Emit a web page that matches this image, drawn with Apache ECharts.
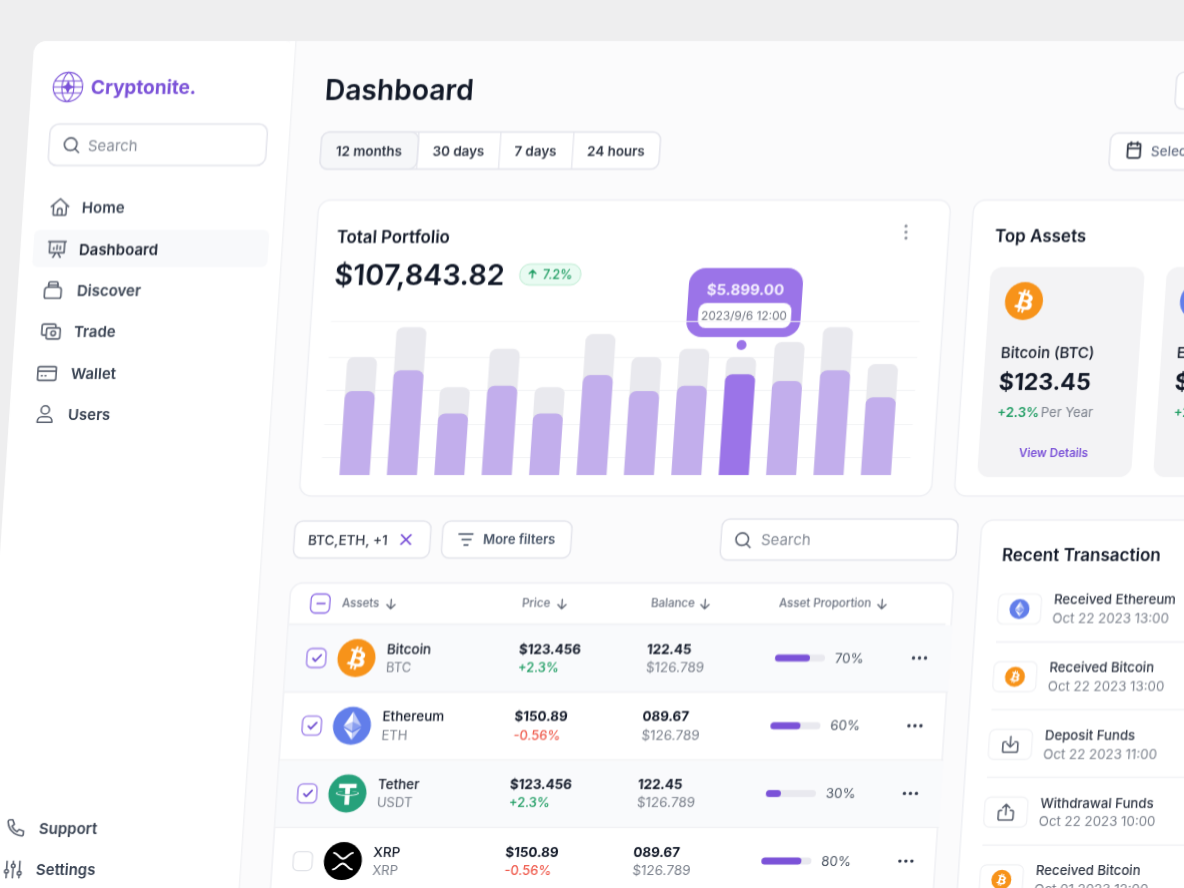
<!DOCTYPE html>
<html>
<head>
<meta charset="utf-8">
<script src="https://cdn.jsdelivr.net/npm/echarts@6/dist/echarts.min.js"></script>
<style>
html,body{margin:0;padding:0;width:1184px;height:888px;overflow:hidden;background:#eeeeef}
#chart{position:absolute;left:0;top:0;width:1270px;height:888px;transform-origin:0 0;transform:matrix(1,0,-0.067,1,0,0)}
</style>
</head>
<body>
<div id="chart"></div>
<script>
const months = ['Jan','Feb','Mar','Apr','May','Jun','Jul','Aug','Sep','Oct','Nov','Dec'];
const portfolioTotals = [76.6,96,57,82,57,91.5,76.6,82,76.6,86.4,96,72];
const portfolioValues = [54.5,68,40,58,40,65,54.5,58,65.5,61,68,50.5];
const activeMonth = 8;
const gridLevels = [100,76.6,55,33,11.7];
const assetNames = ['Bitcoin','Ethereum','Tether','XRP'];
const assetSymbols = ['BTC','ETH','USDT','XRP'];
const assetPrices = ['$123.456','$150.89','$123.456','$150.89'];
const assetChanges = ['+2.3%','-0.56%','+2.3%','-0.56%'];
const assetBalances = ['122.45','089.67','122.45','089.67'];
const assetBalanceValues = ['$126.789','$126.789','$126.789','$126.789'];
const assetProportions = [70,60,30,80];
const assetChecked = [true,true,true,false];
const navItems = ['Home','Dashboard','Discover','Trade','Wallet','Users'];
const ranges = ['12 months','30 days','7 days','24 hours'];
const txTitles = ['Received Ethereum','Received Bitcoin','Deposit Funds','Withdrawal Funds','Received Bitcoin'];
const txDates = ['Oct 22 2023 13:00','Oct 22 2023 13:00','Oct 22 2023 11:00','Oct 22 2023 10:00','Oct 01 2023 12:00'];

const S = 0.067, FF = 'Inter';
const L = (x, y) => x + S * y;
const els = [];
const T = (x, y, text, font, fill, align) => { const yy = y + 1; els.push({type:'text', x:L(x,y), y:yy, style:{text:text, font:font+' '+FF, fill:fill, textAlign:align||'left', textVerticalAlign:'middle'}}); };
const R = (x, y, w, h, r, fill, stroke, lw) => els.push({type:'rect', x:L(x,y), y:y, shape:{x:0,y:0,width:w,height:h,r:r||0}, style:{fill:fill||'none', stroke:stroke||'none', lineWidth:lw||0}});
const C = (x, y, r, fill, stroke, lw) => els.push({type:'circle', x:L(x,y), y:y, shape:{cx:0,cy:0,r:r}, style:{fill:fill||'none', stroke:stroke||'none', lineWidth:lw||0}});
const H = (x, y, w, stroke, lw) => els.push({type:'line', x:L(x,y), y:y, shape:{x1:0,y1:0,x2:w,y2:0}, style:{stroke:stroke, lineWidth:lw||1}});
// icons: path data registered as a graphic shape, scaled from its box and centred at x,y
const shapeNames = new Map();
const shapeOf = d => {
  if (!shapeNames.has(d)) {
    const name = 'icon' + shapeNames.size;
    echarts.graphic.registerShape(name, echarts.graphic.extendPath(d, {}));
    shapeNames.set(d, name);
  }
  return shapeNames.get(d);
};
const P = (x, y, size, box, d, style) => {
  const k = size / box, st = Object.assign({fill:'none', stroke:'none'}, style || {});
  if (st.lineWidth) st.lineWidth = st.lineWidth / k;
  els.push({type:shapeOf(d), x:L(x,y)-size/2, y:y-size/2, scaleX:k, scaleY:k, shape:{}, style:st});
};
const I = (x, y, size, d, color, lw) => P(x, y, size, 24, d, {stroke:color, lineWidth:lw||1.6, lineCap:'round', lineJoin:'round'});

const ICON = {
  home:'M2.5 11.5 12 3l9.5 8.5M5 9.5V19a2 2 0 0 0 2 2h10a2 2 0 0 0 2-2V9.5M9.5 21v-5a2.5 2.5 0 0 1 5 0v5',
  present:'M2.5 4h19M4 4v12h16V4M8 21l3-5M16 21l-3-5M8.5 12.5v-2M12 12.5V8M15.5 12.5V9',
  stack:'M7 9V5a2 2 0 0 1 2-2h6a2 2 0 0 1 2 2v4M6.5 6.5h11M3 12a3 3 0 0 1 3-3h12a3 3 0 0 1 3 3v7a2 2 0 0 1-2 2H5a2 2 0 0 1-2-2z',
  cash:'M6 16H4a2 2 0 0 1-2-2V6a2 2 0 0 1 2-2h11a2 2 0 0 1 2 2v2M7 10a2 2 0 0 1 2-2h11a2 2 0 0 1 2 2v8a2 2 0 0 1-2 2H9a2 2 0 0 1-2-2zM14.5 11.5a2.5 2.5 0 1 0 0 5 2.5 2.5 0 0 0 0-5z',
  wallet:'M2 7a2 2 0 0 1 2-2h16a2 2 0 0 1 2 2v11a2 2 0 0 1-2 2H4a2 2 0 0 1-2-2zM2 10h20M6 15h1M10 15h1',
  user:'M12 3a4.5 4.5 0 1 0 0 9 4.5 4.5 0 0 0 0-9zM4 21v-1a5 5 0 0 1 5-5h6a5 5 0 0 1 5 5v1z',
  phone:'M5 3h3l2 5-2.5 2a12 12 0 0 0 6 6l2-2.5 5 2v3a2 2 0 0 1-2 2A17 17 0 0 1 3 5a2 2 0 0 1 2-2z',
  sliders:'M5 3v9M5 16v5M12 3v3M12 10v11M19 3v11M19 18v3M5 12a2 2 0 1 0 0 4 2 2 0 0 0 0-4zM12 6a2 2 0 1 0 0 4 2 2 0 0 0 0-4zM19 14a2 2 0 1 0 0 4 2 2 0 0 0 0-4z',
  cal:'M4 6a2 2 0 0 1 2-2h12a2 2 0 0 1 2 2v14a2 2 0 0 1-2 2H6a2 2 0 0 1-2-2zM4 10h16M8 2v4M16 2v4',
  search:'M11 3.5a7.5 7.5 0 1 0 0 15 7.5 7.5 0 0 0 0-15zM21 21l-4.5-4.5',
  down:'M12 4v16M5 13l7 7 7-7',
  up:'M12 20V4M5 11l7-7 7 7',
  x:'M4 4l16 16M20 4L4 20',
  dl:'M12 3v12M8 11l4 4 4-4M7 9H5.5a2 2 0 0 0-2 2v8a2 2 0 0 0 2 2h13a2 2 0 0 0 2-2v-8a2 2 0 0 0-2-2H17',
  ul:'M12 15V3M8 7l4-4 4 4M7 10H5.5a2 2 0 0 0-2 2v7a2 2 0 0 0 2 2h13a2 2 0 0 0 2-2v-7a2 2 0 0 0-2-2H17',
  globe:'M12 1a11 11 0 1 0 0 22 11 11 0 0 0 0-22zM12 1c-6 4-6 18 0 22M12 1c6 4 6 18 0 22M2.5 7.5h19M2.5 16.5h19M1 12h22'
};
const BTC = 'M23.189 14.02c.314-2.096-1.283-3.223-3.465-3.975l.708-2.84-1.728-.43-.69 2.765c-.454-.114-.92-.22-1.385-.326l.695-2.783L15.596 6l-.708 2.839c-.376-.086-.746-.17-1.104-.26l.002-.009-2.384-.595-.46 1.846s1.283.294 1.256.312c.7.175.826.638.805 1.006l-.806 3.235c.048.012.11.03.18.057l-.183-.045-1.13 4.532c-.086.212-.303.531-.793.41.018.025-1.256-.313-1.256-.313l-.858 1.978 2.25.561c.418.105.828.215 1.231.318l-.715 2.872 1.727.43.708-2.84c.472.127.93.245 1.378.357l-.706 2.828 1.728.43.715-2.866c2.948.558 5.164.333 6.097-2.333.752-2.146-.037-3.385-1.588-4.192 1.13-.26 1.98-1.003 2.207-2.538zm-3.95 5.538c-.533 2.147-4.148.986-5.32.695l.95-3.805c1.172.293 4.929.872 4.37 3.11zm.535-5.569c-.487 1.953-3.495.96-4.47.717l.86-3.45c.975.243 4.118.696 3.61 2.733z';
const USDT = 'M17.922 17.383v-.002c-.11.008-.677.042-1.942.042-1.01 0-1.721-.03-1.971-.042v.003c-3.888-.171-6.79-.848-6.79-1.658 0-.809 2.902-1.486 6.79-1.66v2.644c.254.018.982.061 1.988.061 1.207 0 1.812-.05 1.925-.06v-2.643c3.88.173 6.775.85 6.775 1.658 0 .81-2.895 1.485-6.775 1.657m0-3.59v-2.366h5.414V7.819H8.595v3.608h5.414v2.365c-4.4.202-7.709 1.074-7.709 2.118 0 1.044 3.309 1.915 7.709 2.118v7.582h3.913v-7.584c4.393-.202 7.694-1.073 7.694-2.116 0-1.043-3.301-1.914-7.694-2.117';
function coin(sym, x, y, r) {
  const size = r * 2, w = {fill:'#fff'};
  if (sym === 'BTC') { C(x,y,r,'#f7931a'); P(x,y,size,32,BTC,w); }
  if (sym === 'ETH') { C(x,y,r,'#627eea');
    P(x,y,size,32,'M16.498 4v8.87l7.497 3.35z',{fill:'rgba(255,255,255,.6)'});
    P(x,y,size,32,'M16.498 4L9 16.22l7.498-3.35z',{fill:'#fff'});
    P(x,y,size,32,'M16.498 21.968v6.027L24 17.616z',{fill:'rgba(255,255,255,.6)'});
    P(x,y,size,32,'M16.498 27.995v-6.028L9 17.616z',{fill:'#fff'});
    P(x,y,size,32,'M16.498 20.573l7.497-4.353-7.497-3.348z',{fill:'rgba(255,255,255,.25)'});
    P(x,y,size,32,'M9 16.22l7.498 4.353v-7.701z',{fill:'rgba(255,255,255,.6)'});
  }
  if (sym === 'USDT') { C(x,y,r,'#26a17b'); P(x,y,size,32,USDT,w); }
  if (sym === 'XRP') { C(x,y,r,'#000');
    P(x,y,size,32,'M8 9c3 0 5 5 8 5s5-5 8-5M8 23c3 0 5-5 8-5s5 5 8 5',{stroke:'#fff',lineWidth:1.8,lineCap:'round'});
  }
}
const INK='#111827', BODY='#2f3644', GREY='#7b818c', PURPLE='#7b52d8', GREEN='#1f9d63', RED='#ef5a4c', LINE='#e4e5ec', CARD='#eff0f4';

// app shell
R(34.5,41,1300,900,12,'#fbfbfc');
R(34.5,41,261.5,900,12,'#ffffff');
R(290,41,6,900,0,'#ffffff');
els.push({type:'line', x:L(296,41), y:41, shape:{x1:0,y1:0,x2:0,y2:860}, style:{stroke:'#f0f1f4',lineWidth:1.2}});

// sidebar
I(68,87,32,ICON.globe,'#7b52d8',1.1);
P(68,87,16,24,'M12 2l3 7 7 3-7 3-3 7-3-7-7-3 7-3z',{fill:'#7b52d8'});
T(91,87,'Cryptonite.','700 19px','#7b52d8');
R(50.5,124,217.5,41.5,9,'#fff',LINE,1.5);
I(71.5,145,20,ICON.search,'#5b6270',1.6);
T(88,145,'Search','400 15px','#858b96');
const navXY = [[82,207],[79,249],[77,290],[74,331.5],[71,373],[68,414]];
const navIcons = ['home','present','stack','cash','wallet','user'];
const navIconX = [60,57,53,51,47,45];
R(34.5,230,235,37,6,'#f8f9fb');
navItems.forEach((n,i)=>{
  I(navIconX[i],navXY[i][1],22,ICON[navIcons[i]],'#5b6270',1.6);
  T(navXY[i][0],navXY[i][1],n,'600 15px',i===1?'#1b2230':'#374151');
});
I(16,828,22,ICON.phone,'#5b6270',1.6); T(39,828,'Support','600 15px','#374151');
I(13,869.5,22,ICON.sliders,'#5b6270',1.6); T(36,869.5,'Settings','600 15px','#374151');

// header
T(325,90.5,'Dashboard','600 28.2px',INK);
R(1177,72,60,37,8,'#fff',LINE,1.5);
R(322,132,339,37,8,'#fff',LINE,1.5);
R(322,132,97,37,8,'#f6f7f9',LINE,1.5);
[419,501,574].forEach(x=>els.push({type:'line',x:L(x,132),y:132,shape:{x1:0,y1:0,x2:0,y2:37},style:{stroke:LINE,lineWidth:1.2}}));
[369,458.5,535.5,616].forEach((x,i)=>T(x,150.5,ranges[i],'600 13.4px',BODY,'center'));
R(1111,133,110,37,8,'#fff',LINE,1.5);
I(1134,150,19,ICON.cal,'#2f3644',1.8);
T(1151,150.5,'Select Date','500 13.5px','#667085');

// portfolio card
R(319,200,632,296,12,'#fff',CARD,1.5);
T(337,236.5,'Total Portfolio','600 16.8px',INK);
T(334.5,275,'$107,843.82','600 28.7px',INK);
R(520.5,264,61,21,10,'#e9fbf2','#bdecd2',1);
I(532.5,274,11,ICON.up,GREEN,1.5);
T(543,274,'7.2%','500 12.5px',GREEN);
[226,232,238].forEach(y=>C(906,y,1.6,'#8a8f99'));

// portfolio bubble
R(690,268,114,69,16,'#9b74e8');
R(699,303,93,25,8,'#fff');
T(745.5,289,'$5.899.00','700 15px','#f5f0ff','center');
T(744,315,'2023/9/6 12:00','400 11.8px','#6f7480','center');
C(741.5,345,5,'#9b74e8');

// top assets
R(974,200,300,296,12,'#fff',CARD,1.5);
T(995,236,'Top Assets','600 17px',INK);
R(991,267,154,210,12,'#f3f3f5');
coin('BTC',1024,301,19);
T(1001,352,'Bitcoin (BTC)','500 15px',INK);
T(999,382,'$123.45','700 23px',INK);
T(997.5,412,'+2.3%','600 13px',GREEN);
T(1041,412,'Per Year','400 13px',GREY);
T(1053.5,453,'View Details','600 11.6px',PURPLE,'center');
R(1167,267,154,210,12,'#f3f3f5');
coin('ETH',1199,301,19);
T(1177,352,'Ethereum (ETH)','500 15px',INK);
T(1175,382,'$150.89','700 23px',INK);
T(1174,412,'+2.3%','600 13px',GREEN);

// filters
R(295.5,521,136,37,8,'#fff',LINE,1.5);
T(308,539.5,'BTC,ETH, +1','500 13.5px',BODY);
I(406,539.5,14,ICON.x,'#7b52d8',1.8);
R(443.5,521,129,37,8,'#fff',LINE,1.5);
H(458.5,534,15,'#475467',1.6); H(461.5,539.5,10,'#475467',1.6); H(463.5,545,5,'#475467',1.6);
T(483,539.5,'More filters','600 13px','#475467');
R(722.5,519,236,41,8,'#fff',LINE,1.5);
I(743,540,20,ICON.search,'#5b6270',1.6);
T(761,539.5,'Search','400 15px','#858b96');

// asset table
R(291,583,663,340,12,'#fff',CARD,1.5);
R(311.5,594,19,19,5,'#fff','#8d6be6',1.3);
H(316.5,603.5,9,'#7b52d8',1.6);
const heads = [['Assets',342,391],['Price',522,562],['Balance',651,705],['Asset Proportion',779,882]];
heads.forEach(h=>{ T(h[1],603,h[0],'500 11.5px','#6b7280'); I(h[2],604,14,ICON.down,'#5b6270',1.3); });
H(288.5,624.5,657,'#f0f1f4',2);
assetNames.forEach((n,i)=>{
  const y=658+67.7*i, d=S*67.7*i, top=625.3+67.7*i;
  if(i%2===0) R(288.8-d,top,664,66.6,0,'#f9fafc');
  H(284-d,top+66.8,664,'#eff0f3',1.2);
  R(307.5-d,y-9.5,19,19,5,'#fff',assetChecked[i]?'#9a7be8':'#e1e3e8',1.3);
  if(assetChecked[i]) I(317-d,y,12,'M4 13l5 5L20 6','#6d4bd0',1.8);
  coin(assetSymbols[i],356.5-d,y,19);
  T(387-d,y-9.5,n,'500 13.5px',INK);
  T(386-d,y+9,assetSymbols[i],'400 13px',GREY);
  T(519-d,y-9.5,assetPrices[i],'700 13.4px',INK);
  T(518-d,y+9,assetChanges[i],'500 13px',assetChanges[i][0]==='+'?GREEN:RED);
  T(647-d,y-9.5,assetBalances[i],'700 13.4px',INK);
  T(646-d,y+9,assetBalanceValues[i],'400 13.5px',GREY);
  T(835-d,y-0.5,assetProportions[i]+'%','400 13.3px','#4b5563');
  [-6,0,6].forEach(o=>C(919.5-d+o,y,1.7,'#30384a'));
});

// recent transactions
R(982,520,300,420,12,'#fff',CARD,1.5);
T(1002,555,'Recent Transaction','600 17px',INK);
const txIcon = ['ETH','BTC','dl','ul','BTC'];
txTitles.forEach((t,i)=>{
  const y=600+67.7*i, d=S*67.7*i;
  R(999-d,y-6,43,30,6,'#fff','#f0f1f4',1.2);
  if(ICON[txIcon[i]]) I(1019.5-d,y+9,21,ICON[txIcon[i]],'#5b6270',1.6);
  else coin(txIcon[i],1019.5-d,y+9,10);
  T(1054-d,y-0.5,t,'500 13.2px',BODY);
  T(1052.3-d,y+18.2,txDates[i],'400 13.3px',GREY);
  if(i<4) H(996-d,y+42,240,'#f0f1f4',1.3);
});

// series and grids
const mainColor = i => i===activeMonth ? '#9b74e8' : '#c2aeec';
const slot = months.map((m,i)=>i+1);
const grids = [{left:L(322,457), top:321, width:588.6, height:154}];
const xAxes = [{type:'value', gridIndex:0, min:0.289, max:12.707, show:false}];
const yAxes = [{type:'value', gridIndex:0, min:0, max:100, show:false}];
const series = [
 {name:'Total', type:'bar', xAxisIndex:0, yAxisIndex:0, barWidth:30, barGap:'-100%', z:2,
  data:slot.map((s,i)=>[s,portfolioTotals[i]]), itemStyle:{color:'#e9e9ee', borderRadius:[7,7,0,0]}, silent:true,
  markLine:{silent:true, symbol:'none', label:{show:false}, z:1, lineStyle:{color:'#f3f4f6', width:1, type:'solid'},
    data:gridLevels.map(v=>({yAxis:v}))}},
 {name:'Value', type:'bar', xAxisIndex:0, yAxisIndex:0, barWidth:30, barGap:'-100%', z:3,
  data:slot.map((s,i)=>({value:[s,portfolioValues[i]], itemStyle:{color:mainColor(i), borderRadius:[7,7,0,0]}})), silent:true}
];
assetProportions.forEach((p,i)=>{
  const k=i+1, y=658+67.7*i, d=S*67.7*i;
  grids.push({left:L(775-d,y), top:y-3.5, width:50, height:7});
  xAxes.push({type:'value', gridIndex:k, min:0, max:100, show:false});
  yAxes.push({type:'category', gridIndex:k, data:[assetNames[i]], show:false});
  series.push({name:assetNames[i], type:'bar', xAxisIndex:k, yAxisIndex:k, barWidth:7, data:[p], silent:true,
    showBackground:true, backgroundStyle:{color:'#e9e9ef', borderRadius:3.5}, itemStyle:{color:'#7b52d8', borderRadius:3.5}});
});

const chart = echarts.init(document.getElementById('chart'), null, {renderer:'canvas', width:1270, height:888});
chart.setOption({animation:false, backgroundColor:'transparent', grid:grids, xAxis:xAxes, yAxis:yAxes, series:series,
  graphic:{elements:els}});
</script>
</body>
</html>
